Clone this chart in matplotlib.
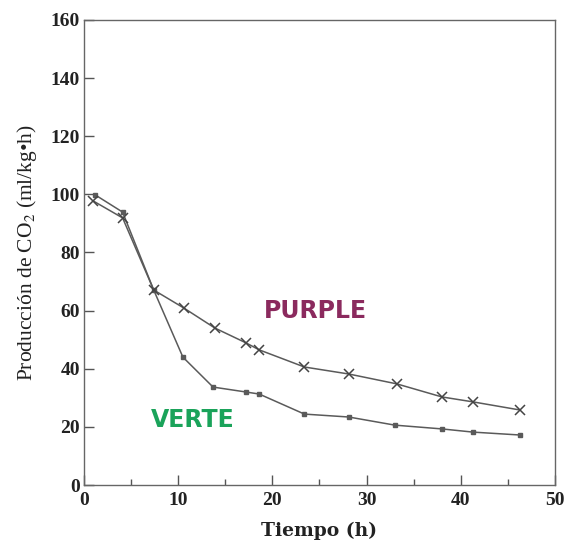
import numpy as np
import matplotlib.pyplot as plt

plt.rcParams['mathtext.fontset'] = 'stix'

# --- data ---
t_verte = [1.2, 4.1, 7.4, 10.5, 13.7, 17.2, 18.6, 23.4, 28.1, 33.0, 38.0, 41.3, 46.3]
co2_verte = [99.8, 93.9, 67.1, 44.0, 33.7, 32.0, 31.3, 24.4, 23.4, 20.6, 19.3, 18.2, 17.2]

t_purple = [1.0, 4.1, 7.4, 10.6, 13.9, 17.2, 18.6, 23.4, 28.1, 33.2, 38.0, 41.3, 46.3]
co2_purple = [97.7, 91.9, 67.1, 60.9, 54.0, 48.9, 46.5, 40.6, 38.2, 34.8, 30.3, 28.6, 25.8]

x_ticks = [0, 10, 20, 30, 40, 50]
y_ticks = [0, 20, 40, 60, 80, 100, 120, 140, 160]

serif = "Liberation Serif"
line_col = "#5a5a5a"

fig = plt.figure(figsize=(5.69, 5.46), dpi=100)
ax = fig.add_axes([0.1476, 0.1117, 0.8278, 0.8517])

ax.plot(t_verte, co2_verte, color=line_col, lw=1.1, marker="s", ms=2.5,
        mfc=line_col, mec=line_col)
ax.plot(t_purple, co2_purple, color=line_col, lw=1.1, marker="x", ms=7,
        mew=1.1, mec="#444444")

ax.set_xlim(0, 50)
ax.set_ylim(0, 160)
ax.set_xticks(x_ticks)
ax.set_xticks([5, 15, 25, 35, 45], minor=True)
ax.set_yticks(y_ticks)
ax.tick_params(direction="in", length=7, width=1, colors="#555555",
               labelcolor="#222222", labelsize=14, pad=5)
ax.tick_params(which="minor", direction="in", length=4, width=1, colors="#555555")
ax.tick_params(axis="y", pad=3)
for lab in ax.get_xticklabels() + ax.get_yticklabels():
    lab.set_fontfamily(serif)
    lab.set_fontweight("bold")
for s in ax.spines.values():
    s.set_color("#666666")
    s.set_linewidth(1)

ax.set_xlabel("Tiempo (h)", fontfamily="DejaVu Serif", fontweight="bold",
              fontsize=13.5, color="#222222", labelpad=9)
ax.set_ylabel("Producción de CO$_2$ (ml/kg•h)", fontfamily=serif, fontsize=15.5,
              color="#222222", labelpad=8)

ax.text(24.6, 59.9, "PURPLE", color="#8b2a5e", fontsize=17, fontweight="bold",
        fontfamily="DejaVu Sans", ha="center", va="center")
ax.text(11.6, 22.4, "VERTE", color="#1aa35a", fontsize=17, fontweight="bold",
        fontfamily="DejaVu Sans", ha="center", va="center")

fig.savefig("out.png", dpi=100)
